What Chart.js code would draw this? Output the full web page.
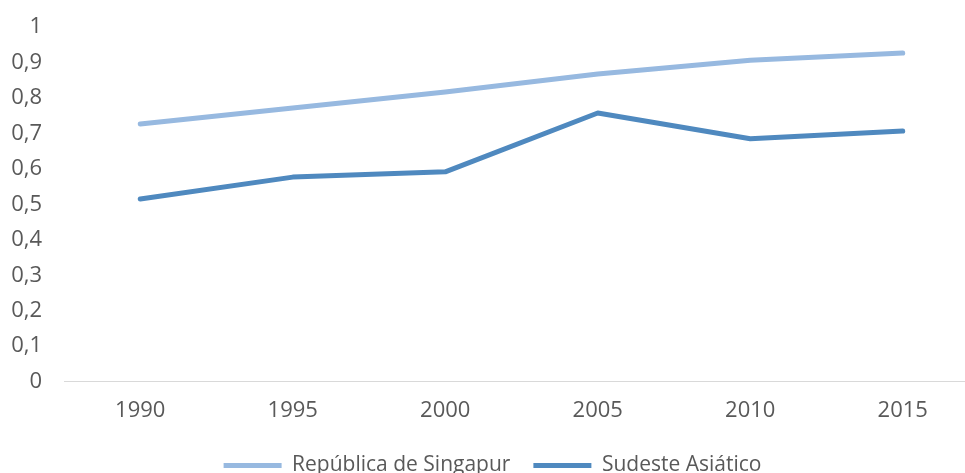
<!DOCTYPE html>
<html>
<head>
<meta charset="utf-8">
<script src="https://cdn.jsdelivr.net/npm/chart.js@4/dist/chart.umd.min.js"></script>
<style>
  html, body { margin: 0; padding: 0; background: #fff; overflow: hidden; }
  #wrap { width: 965px; height: 473px; overflow: hidden; position: relative; }
  #box { position: absolute; left: 0; top: 0; width: 979px; height: 486px; }
</style>
</head>
<body>
<div id="wrap"><div id="box"><canvas id="myChart"></canvas></div></div>
<script>
const years = ['1990', '1995', '2000', '2005', '2010', '2015'];
const singapur = [0.727, 0.772, 0.817, 0.868, 0.907, 0.927];
const sudeste = [0.515, 0.577, 0.592, 0.758, 0.685, 0.707];
const yTicks = [0, 0.1, 0.2, 0.3, 0.4, 0.5, 0.6, 0.7, 0.8, 0.9, 1];

const family = "'Open Sans', 'Liberation Sans', sans-serif";

const ctx = document.getElementById('myChart').getContext('2d');
const myChart = new Chart(ctx, {
  type: 'line',
  data: {
    labels: years,
    datasets: [
      {
        label: 'República de Singapur',
        data: singapur,
        borderColor: '#97b9e0',
        backgroundColor: '#97b9e0',
        borderWidth: 5,
        pointRadius: 0,
        borderCapStyle: 'round',
        borderJoinStyle: 'round',
        tension: 0,
      },
      {
        label: 'Sudeste Asiático',
        data: sudeste,
        borderColor: '#4f89bf',
        backgroundColor: '#4f89bf',
        borderWidth: 5,
        pointRadius: 0,
        borderCapStyle: 'round',
        borderJoinStyle: 'round',
        tension: 0,
      },
    ],
  },
  options: {
    responsive: true,
    maintainAspectRatio: false,
    animation: false,
    layout: {padding: {left: 6, right: 0, top: 8, bottom: 0}},
    scales: {
      x: {
        offset: true,
        grid: {display: false},
        border: {display: true, color: '#d9d9d9', width: 1},
        ticks: {color: '#595959', font: {family: family, size: 22}, padding: 8, maxRotation: 0},
      },
      y: {
        min: 0,
        max: 1,
        afterBuildTicks: (axis) => {
          axis.ticks = yTicks.map((v) => ({value: v}));
        },
        afterFit: (axis) => {
          axis.width = 58;
        },
        grid: {display: false},
        border: {display: false},
        ticks: {
          color: '#595959',
          font: {family: family, size: 22},
          padding: 14,
          callback: (v) => String(Math.round(v * 10) / 10).replace('.', ','),
        },
      },
    },
    plugins: {
      tooltip: {enabled: false},
      legend: {
        position: 'bottom',
        labels: {
          color: '#595959',
          font: {family: family, size: 21},
          boxWidth: 58,
          boxHeight: 5,
          padding: 23,
          generateLabels: (chart) =>
            chart.data.datasets.map((d, i) => ({
              text: d.label,
              fillStyle: d.borderColor,
              strokeStyle: d.borderColor,
              lineWidth: 0,
              fontColor: '#595959',
              datasetIndex: i,
            })),
        },
      },
    },
  },
});
</script>
</body>
</html>
